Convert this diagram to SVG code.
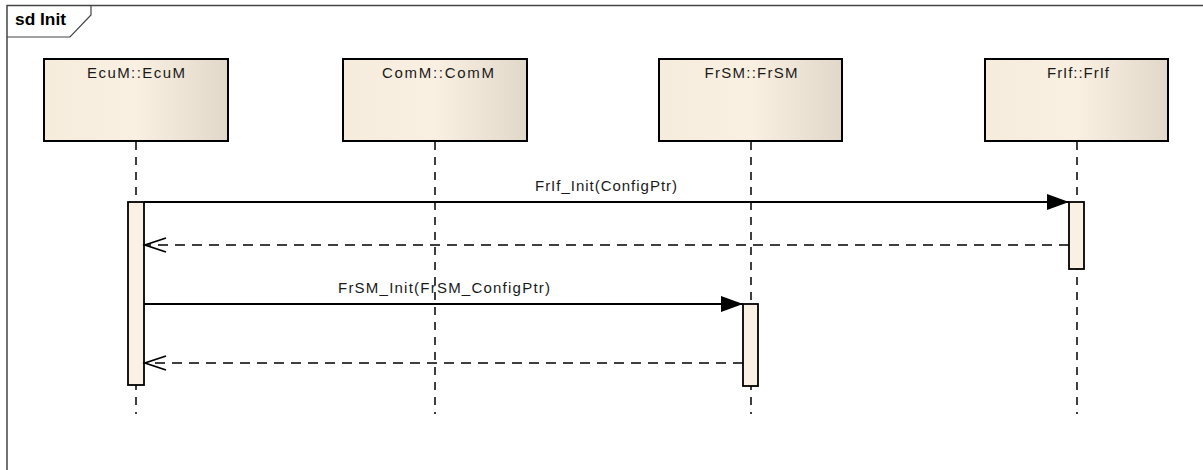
<svg xmlns="http://www.w3.org/2000/svg" width="1203" height="470" viewBox="0 0 1203 470">
<style>
  .lbl { font-family: "Liberation Sans", Arial, sans-serif; font-size: 15px; fill: #1a1a1a; }
  .title { font-family: "Liberation Sans", Arial, sans-serif; font-size: 16px; font-weight: bold; fill: #000; }
  .box { fill: url(#grad); stroke: #000; stroke-width: 2; }
  .act { fill: #faf0e3; stroke: #000; stroke-width: 1.8; }
  .life { stroke: #000; stroke-width: 1.5; stroke-dasharray: 8 7; fill: none; }
  .msg { stroke: #000; stroke-width: 2; fill: none; }
  .ret { stroke: #000; stroke-width: 1.6; stroke-dasharray: 10 7; fill: none; }
</style>
<defs>
  <linearGradient id="grad" x1="0" y1="0" x2="1" y2="0">
    <stop offset="0" stop-color="#f6ecdc"/>
    <stop offset="0.5" stop-color="#faf0e2"/>
    <stop offset="1" stop-color="#e1d8ca"/>
  </linearGradient>
  <marker id="filled" markerUnits="userSpaceOnUse" markerWidth="24" markerHeight="18" refX="22" refY="8" orient="auto">
    <path d="M0,0 L22,8 L0,16 Z" fill="#000"/>
  </marker>
  <marker id="open" markerUnits="userSpaceOnUse" markerWidth="26" markerHeight="20" refX="23" refY="9" orient="auto">
    <path d="M2,2 L23,9 L2,16" fill="none" stroke="#000" stroke-width="1.8"/>
  </marker>
</defs>
<rect x="0" y="0" width="1203" height="470" fill="#fff"/>
<g id="frame">
  <path d="M7,470 L7,5.5 L1210,5.5" fill="none" stroke="#444" stroke-width="1.5"/>
  <path d="M7,37 L70,37 L91,15 L91,5.5" fill="none" stroke="#444" stroke-width="1.2"/>
  <text class="title" x="15" y="25" textLength="51" lengthAdjust="spacingAndGlyphs">sd Init</text>
</g>
<g id="lifelines">
  <line class="life" x1="136" y1="142" x2="136" y2="414"/>
  <line class="life" x1="435" y1="142" x2="435" y2="414"/>
  <line class="life" x1="751" y1="142" x2="751" y2="414"/>
  <line class="life" x1="1077" y1="142" x2="1077" y2="414"/>
</g>
<g id="EcuM">
  <rect class="box" x="44" y="59" width="184" height="82"/>
  <text class="lbl" x="136" y="78" text-anchor="middle" textLength="98" lengthAdjust="spacing">EcuM::EcuM</text>
  <rect class="act" x="128" y="202" width="16" height="183"/>
</g>
<g id="ComM">
  <rect class="box" x="343" y="59" width="184" height="82"/>
  <text class="lbl" x="438" y="78" text-anchor="middle" textLength="112" lengthAdjust="spacing">ComM::ComM</text>
</g>
<g id="FrSM">
  <rect class="box" x="659" y="59" width="183" height="82"/>
  <text class="lbl" x="751" y="78" text-anchor="middle" textLength="93" lengthAdjust="spacing">FrSM::FrSM</text>
  <rect class="act" x="743" y="304" width="15" height="82"/>
</g>
<g id="FrIf">
  <rect class="box" x="985" y="59" width="183" height="82"/>
  <text class="lbl" x="1078" y="78" text-anchor="middle" textLength="62" lengthAdjust="spacing">FrIf::FrIf</text>
  <rect class="act" x="1069" y="202" width="15" height="67"/>
</g>
<g id="connectors">
  <line class="msg" x1="144" y1="202" x2="1069" y2="202" marker-end="url(#filled)"/>
  <text class="lbl" x="606" y="191" text-anchor="middle" textLength="142" lengthAdjust="spacing">FrIf_Init(ConfigPtr)</text>
  <line class="ret" x1="1069" y1="245" x2="145" y2="245" marker-end="url(#open)"/>
  <line class="msg" x1="144" y1="304" x2="743" y2="304" marker-end="url(#filled)"/>
  <text class="lbl" x="444" y="293" text-anchor="middle" textLength="212" lengthAdjust="spacing">FrSM_Init(FrSM_ConfigPtr)</text>
  <line class="ret" x1="743" y1="363" x2="145" y2="363" marker-end="url(#open)"/>
</g>
</svg>
